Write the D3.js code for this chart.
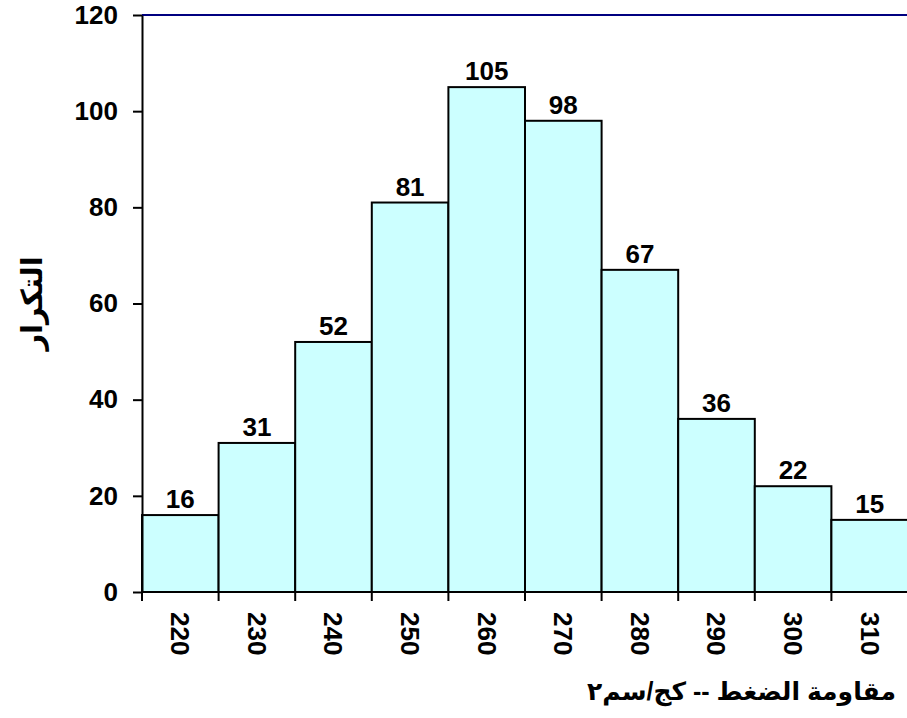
<!DOCTYPE html>
<html>
<head>
<meta charset="utf-8">
<script src="https://cdn.jsdelivr.net/npm/d3@7"></script>
<style>
  html, body { margin: 0; padding: 0; background: #fff; }
  svg text { font-family: Arial, "Liberation Sans", "DejaVu Sans", sans-serif; font-weight: bold; }
</style>
</head>
<body>
<svg id="chart" width="907" height="718"></svg>
<script>
// Compressive strength classes (kg/cm²) and their frequencies
const categories = ["220", "230", "240", "250", "260", "270", "280", "290", "300", "310"];
const frequencies = [16, 31, 52, 81, 105, 98, 67, 36, 22, 15];
const yTicks = [0, 20, 40, 60, 80, 100, 120];
const yTitle = "التكرار";
const xTitle = "مقاومة الضغط --  كج/سم٢";

const svg = d3.select("#chart");
const margin = { left: 142, right: -1, top: 15, bottom: 126 };
const W = 907, H = 718;
const FS = 26;

const x = d3.scaleBand()
  .domain(categories)
  .range([margin.left, W - margin.right])
  .padding(0);

const y = d3.scaleLinear()
  .domain([0, 120])
  .range([H - margin.bottom, margin.top]);

// top frame line
svg.append("line")
  .attr("x1", margin.left).attr("x2", W)
  .attr("y1", y(120)).attr("y2", y(120))
  .attr("stroke", "#000080").attr("stroke-width", 2);

// bars
svg.append("g").selectAll("rect")
  .data(frequencies)
  .join("rect")
  .attr("x", (d, i) => x(categories[i]))
  .attr("y", d => y(d))
  .attr("width", x.bandwidth())
  .attr("height", d => y(0) - y(d))
  .attr("fill", "#CCFFFF")
  .attr("stroke", "#000")
  .attr("stroke-width", 2);

// value labels
svg.append("g").selectAll("text")
  .data(frequencies)
  .join("text")
  .attr("x", (d, i) => x(categories[i]) + x.bandwidth() / 2)
  .attr("y", d => y(d) - 7)
  .attr("text-anchor", "middle")
  .attr("font-size", FS)
  .attr("fill", "#000")
  .text(d => d);

// y axis
const yAxis = svg.append("g")
  .attr("transform", `translate(${margin.left},0)`)
  .call(d3.axisLeft(y).tickValues(yTicks).tickSize(9).tickPadding(15).tickSizeOuter(0));
yAxis.select(".domain").attr("stroke", "#000").attr("stroke-width", 2);
yAxis.selectAll(".tick line").attr("stroke", "#000").attr("stroke-width", 2);
yAxis.selectAll(".tick text").attr("font-size", FS).attr("fill", "#000")
  .style("font-family", "Arial, 'Liberation Sans', sans-serif").style("font-weight", "bold");

// x axis: ticks at class boundaries
const edges = categories.map(c => x(c)).concat([x(categories[categories.length - 1]) + x.bandwidth()]);
const xAxis = svg.append("g");
xAxis.append("line")
  .attr("x1", margin.left).attr("x2", W)
  .attr("y1", y(0)).attr("y2", y(0))
  .attr("stroke", "#000").attr("stroke-width", 2);
xAxis.selectAll("line.tick")
  .data(edges)
  .join("line")
  .attr("class", "tick")
  .attr("x1", d => d).attr("x2", d => d)
  .attr("y1", y(0)).attr("y2", y(0) + 9)
  .attr("stroke", "#000").attr("stroke-width", 2);
xAxis.selectAll("text")
  .data(categories)
  .join("text")
  .attr("transform", d => `translate(${x(d) + x.bandwidth() / 2},${y(0) + 20}) rotate(90)`)
  .attr("dy", "0.35em")
  .attr("text-anchor", "start")
  .attr("font-size", FS)
  .attr("fill", "#000")
  .text(d => d);

// axis titles
svg.append("text")
  .attr("transform", `translate(42,${(y(0) + y(120)) / 2}) rotate(-90)`)
  .attr("text-anchor", "middle")
  .attr("font-size", 29)
  .attr("fill", "#000")
  .text(yTitle);

svg.append("text")
  .attr("x", 896)
  .attr("y", 700)
  .attr("text-anchor", "end")
  .attr("font-size", 25)
  .attr("fill", "#000")
  .text(xTitle);
</script>
</body>
</html>
